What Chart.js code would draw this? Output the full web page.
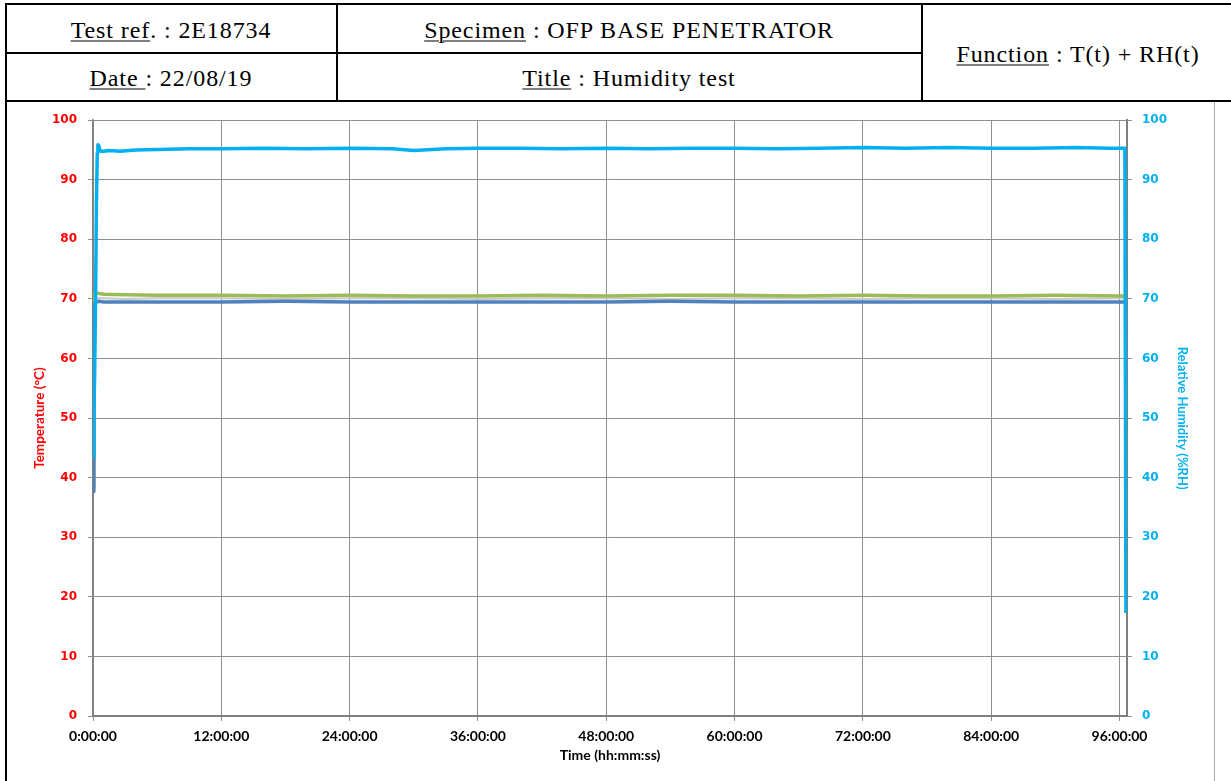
<!DOCTYPE html>
<html>
<head>
<meta charset="utf-8">
<script src="https://cdn.jsdelivr.net/npm/chart.js@4.4.1/dist/chart.umd.min.js"></script>
<style>
  html, body { margin: 0; padding: 0; background: #fff; }
  body { width: 1231px; height: 781px; position: relative; overflow: hidden; }
  .hdr { position: absolute; font-family: "Liberation Serif", "Times New Roman", serif; font-size: 24px; letter-spacing: 0.9px; color: #000; white-space: nowrap; transform: translate(-50%, -50%); }
  .hdr u { text-decoration-thickness: 1px; text-underline-offset: 3px; }
  .ln { position: absolute; background: #000; }
  #wrap { position: absolute; left: 7px; top: 102px; width: 1207px; height: 679px; }
</style>
</head>
<body>
<!-- header table -->
<div class="ln" style="left:5px; top:3px; width:1226px; height:2px;"></div>
<div class="ln" style="left:5px; top:52px; width:918px; height:2px;"></div>
<div class="ln" style="left:5px; top:100px; width:1226px; height:2px;"></div>
<div class="ln" style="left:5px; top:3px; width:2px; height:778px;"></div>
<div class="ln" style="left:336px; top:3px; width:2px; height:98px;"></div>
<div class="ln" style="left:921px; top:3px; width:2px; height:98px;"></div>
<div class="ln" style="left:1214px; top:102px; width:1px; height:679px; background:#a6a6a6;"></div>

<div class="hdr" style="left:171px; top:30px;"><u>Test ref</u>. : 2E18734</div>
<div class="hdr" style="left:171px; top:78px;"><u>Date </u>: 22/08/19</div>
<div class="hdr" style="left:629px; top:30px;"><u>Specimen</u> : OFP BASE PENETRATOR</div>
<div class="hdr" style="left:629px; top:78px;"><u>Title</u> : Humidity test</div>
<div class="hdr" style="left:1078px; top:54px;"><u>Function</u> : T(t) + RH(t)</div>

<div id="wrap"><canvas id="chart" width="1207" height="679"></canvas></div>

<script>
// time in hours
const timeRH = [0, 0.08, 0.16, 0.25, 0.32, 0.4, 0.46, 0.52, 0.62, 0.75, 1, 1.5, 2.5, 4, 6, 9, 12, 16, 20, 24, 28, 30, 33, 36, 40, 44, 48, 52, 56, 60, 64, 68, 72, 76, 80, 84, 88, 92, 95, 96.5, 96.6];
const humidity = [43.5, 50, 58, 72, 86, 94.5, 95.9, 95.8, 95.1, 94.8, 94.8, 94.9, 94.8, 95.0, 95.1, 95.2, 95.2, 95.3, 95.2, 95.3, 95.2, 94.9, 95.2, 95.3, 95.3, 95.2, 95.3, 95.2, 95.3, 95.3, 95.2, 95.3, 95.4, 95.3, 95.4, 95.3, 95.3, 95.4, 95.3, 95.3, 17.3];

const timeT = [0, 0.08, 0.16, 0.3, 0.6, 1, 3, 6, 12, 18, 24, 30, 36, 42, 48, 54, 60, 66, 72, 78, 84, 90, 96.5];
const tempAir = [38.5, 58, 70.9, 71.0, 70.9, 70.8, 70.7, 70.6, 70.6, 70.5, 70.6, 70.5, 70.5, 70.6, 70.5, 70.6, 70.6, 70.5, 70.6, 70.5, 70.5, 70.6, 70.5];
const tempMid = [38.0, 57, 69.8, 70.1, 70.1, 70.1, 70.0, 70.1, 70.1, 70.0, 70.1, 70.1, 70.0, 70.1, 70.1, 70.0, 70.1, 70.1, 70.0, 70.1, 70.1, 70.0, 70.1];
const tempSpec = [37.7, 56, 69.2, 69.5, 69.6, 69.5, 69.5, 69.5, 69.5, 69.6, 69.5, 69.5, 69.5, 69.5, 69.5, 69.6, 69.5, 69.5, 69.5, 69.5, 69.5, 69.5, 69.5];

const yTicks = [0, 10, 20, 30, 40, 50, 60, 70, 80, 90, 100];
const xTickHours = [0, 12, 24, 36, 48, 60, 72, 84, 96];

const RED = "#ff0000";
const CYAN = "#00b0f0";
const GRID = "#8f8f8f";

function pts(xs, ys) {
  return xs.map((x, i) => ({ x: x, y: ys[i] }));
}

function fmtHour(v) {
  return v + ":00:00";
}

const ctx = document.getElementById("chart").getContext("2d");
new Chart(ctx, {
  type: "line",
  data: {
    datasets: [
      { label: "RH", data: pts(timeRH, humidity), yAxisID: "yRH", borderColor: CYAN, borderWidth: 3.5 },
      { label: "T3", data: pts(timeT, tempSpec), yAxisID: "yT", borderColor: "#4f81bd", borderWidth: 3.5 },
      { label: "T1", data: pts(timeT, tempAir), yAxisID: "yT", borderColor: "#9bbb59", borderWidth: 3.5 },
      { label: "T2", data: pts(timeT, tempMid), yAxisID: "yT", borderColor: "#c8c8c8", borderWidth: 2 },
    ],
  },
  options: {
    responsive: false,
    animation: false,
    devicePixelRatio: 1,
    elements: { point: { radius: 0 }, line: { tension: 0, borderJoinStyle: "round" } },
    layout: { padding: { top: 14, left: 0, right: 0, bottom: 0 } },
    plugins: { legend: { display: false }, tooltip: { enabled: false } },
    scales: {
      x: {
        type: "linear",
        min: 0,
        max: 96.7,
        afterBuildTicks: (scale) => {
          scale.ticks = xTickHours.map((v) => ({ value: v }));
        },
        afterFit: (scale) => { scale.height = 65; },
        ticks: {
          callback: (v) => fmtHour(v),
          color: "#000",
          font: { family: "Lato", size: 14, weight: "bold" },
          padding: 7,
          maxRotation: 0,
        },
        grid: { color: GRID, tickLength: 5, lineWidth: 1 },
        border: { color: "#7f7f7f", width: 2 },
        title: {
          display: true,
          text: "Time (hh:mm:ss)",
          color: "#000",
          font: { family: "Lato", size: 14, weight: "bold" },
          padding: { top: 0, bottom: 17 },
        },
      },
      yT: {
        position: "left",
        min: 0,
        max: 100,
        afterBuildTicks: (scale) => {
          scale.ticks = yTicks.map((v) => ({ value: v }));
        },
        afterFit: (scale) => { scale.width = 86; },
        ticks: {
          color: RED,
          font: { family: "DejaVu Sans", size: 12, weight: "bold" },
          padding: 11,
        },
        grid: { color: GRID, tickLength: 5, lineWidth: 1 },
        border: { color: "#7f7f7f", width: 1.5 },
        title: {
          display: true,
          text: "Temperature (°C)",
          color: RED,
          font: { family: "Lato", size: 13.5, weight: "bold" },
          padding: { top: 25, bottom: 0 },
        },
      },
      yRH: {
        position: "right",
        min: 0,
        max: 100,
        afterBuildTicks: (scale) => {
          scale.ticks = yTicks.map((v) => ({ value: v }));
        },
        afterFit: (scale) => { scale.width = 87; },
        ticks: {
          color: CYAN,
          font: { family: "DejaVu Sans", size: 12, weight: "bold" },
          padding: 10,
        },
        grid: { drawOnChartArea: false, color: GRID, tickLength: 5 },
        border: { color: "#7f7f7f", width: 2 },
        title: {
          display: true,
          text: "Relative Humidity (%RH)",
          color: CYAN,
          font: { family: "Lato", size: 13, weight: "bold" },
          padding: { top: 24, bottom: 0 },
        },
      },
    },
  },
});
</script>
</body>
</html>
